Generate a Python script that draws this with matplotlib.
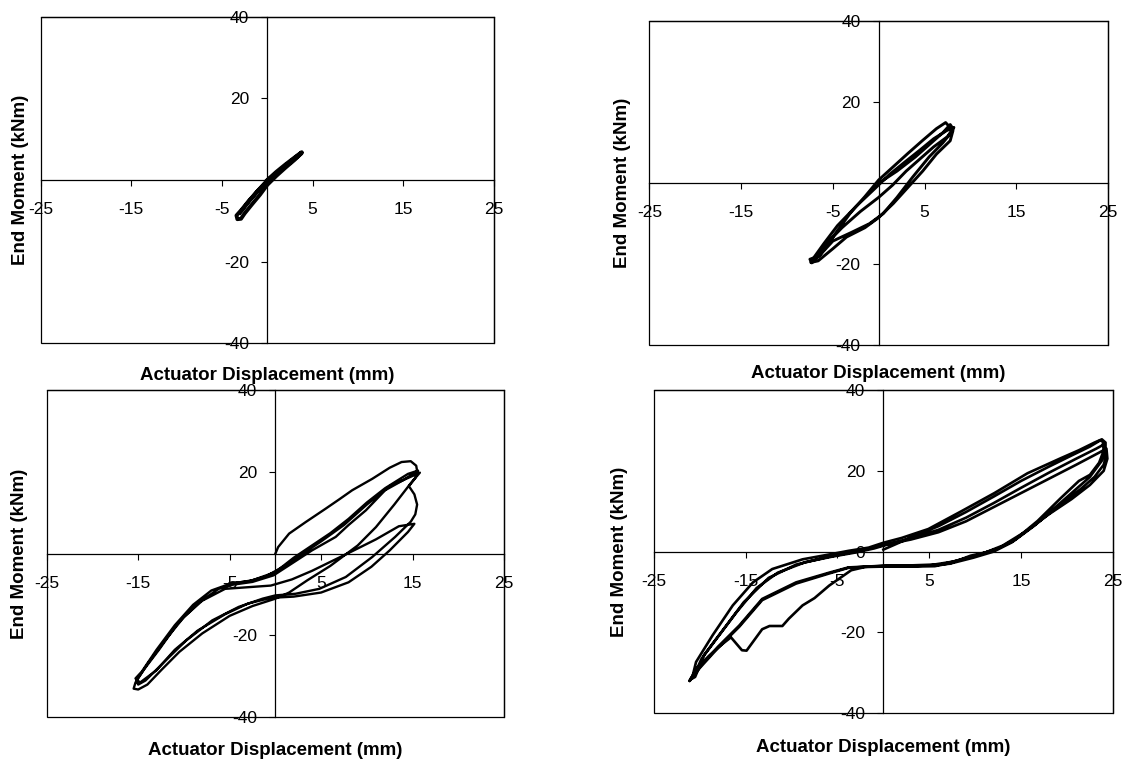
import matplotlib
matplotlib.use("Agg")
import matplotlib.pyplot as plt

plt.rcParams['font.family'] = ['Liberation Sans', 'DejaVu Sans']
plt.rcParams['axes.unicode_minus'] = False

# hysteresis loops, actuator displacement (mm) vs end moment (kNm)
p1_disp = [0, 1, 2, 3, 3.8, 3.2, 2, 1, 0, -1, -2, -2.8, -3.4, -3.3, -2.9, -2.5, -1.7,
           -0.8, 0, 1, 2, 3, 3.8, 2.5, 1.2, 0, -1.2, -2.3, -3]
p1_mom = [0, 2, 3.8, 5.5, 6.8, 5.7, 3.5, 1.6, -0.4, -2.6, -5, -7.2, -8.7, -9.6, -9.5, -8.2, -6,
          -3.6, -1.2, 1, 3, 4.9, 6.6, 4.2, 2, -0.1, -3, -6, -8]

p2_disp = [0, 2, 4, 5.5, 7, 7.8, 8.1, 7.5, 6, 4.5, 3, 1.5, 0, -2, -4, -5.5, -7, -7.4,
           -6.6, -5, -3.5, -1.5, 0, 1.6, 3.2, 4.8, 6.3, 7.8, 8.1,
           7.3, 6.3, 4.8, 3.2, 1.6, 0, -1.5, -3.1, -4.7, -6.3, -7.3, -7.5,
           -6.5, -5, -3, -1, 0.5, 2, 3.7, 5.5, 7, 7.9, 8.2,
           7.4, 6, 4.5, 3, 1.2, -0.5, -2.5, -4.5, -6, -7.2]
p2_mom = [0, 3, 6.5, 9.5, 12.5, 14.5, 13.5, 11.5, 9, 6, 3, -0.5, -3.5, -7, -11, -14.5, -18.5, -19.6,
          -19.2, -16.2, -13.3, -11, -8.5, -5, -1, 3, 7.2, 10.5, 13,
          15, 13.5, 10.6, 7.4, 4.1, 0.8, -3.3, -7.4, -12.4, -17.5, -19.7, -18.8,
          -18, -14.3, -12.2, -10, -7.5, -3.5, 1.5, 6.5, 10, 12.5, 13.8,
          13, 11, 8.2, 5.5, 2.2, -1.5, -5.8, -10.5, -15, -18.8]

p3_disp = [0, 0.3, 1.5, 3.3, 5.5, 7, 8.4, 10.6, 12.5, 13.8, 14.8, 15.4, 15.5,
           14, 12, 9.9, 8, 6.6, 4, 1.8, -0.2, -2.5, -4.7, -6.2, -8.4, -10.6, -12.7, -14.4, -15.2, -15,
           -14.2, -12.4, -9.8, -6.9, -4, -1.4, 0, 2.2, 4.8, 7.7, 10.6, 13.1, 14.8, 15.3, 15.5, 15.2, 14.6, 15.3, 15.6,
           14.5, 12, 10, 8, 6, 4, 2, 0, -2.5, -5, -7, -9, -11, -13, -14.6, -15.3,
           -14.8, -13, -11, -8.5, -5.5, -3, -0.5, 2, 5, 8, 10.5, 12.5, 14.5, 15.2,
           13.5, 11, 8.4, 6.2, 4, 1.8, -0.5, -3, -5.5, -8, -10, -12, -14, -15.3, -15.5,
           -15, -14, -12.5, -10.5, -8, -5, -2.5, 0, 1.5, 3.5, 6, 9, 11, 13, 14.8, 15.8,
           15, 12.5, 10, 7.5, 5, 3, 1, -1, -3, -5]
p3_mom = [0, 1.6, 4.9, 7.7, 11, 13.3, 15.5, 18.3, 21.0, 22.4, 22.6, 21.5, 20.2,
          18, 15.5, 10.6, 7, 4.1, 0.8, -2.4, -5.3, -6.9, -7.6, -8.6, -12, -16.8, -23.4, -28.4, -31, -32,
          -31, -27, -21.3, -16.3, -13, -11, -10.2, -9.8, -8.6, -5.7, -0.8, 4.1, 7.8, 9.6, 12, 14.5, 16.5, 18.5, 20.3,
          19.5, 16, 12.5, 8.5, 5, 2, -1, -4.5, -6.5, -7.4, -9, -12.5, -17.5, -23.5, -28.8, -30.5,
          -31.5, -28.5, -23.5, -18.8, -14.8, -12.2, -10.8, -10.5, -9.5, -7, -3.2, 0.8, 5.3, 7.3,
          6.7, 3.5, 0.6, -1.8, -4.2, -6.3, -7.8, -8.2, -8.6, -11.5, -15.5, -21, -27, -31.5, -33,
          -33.2, -32, -28.5, -24, -19.5, -15.2, -12.8, -11, -9.5, -6.5, -3, 2, 6.5, 12, 17.2, 19.8,
          19, 16.5, 12, 7, 3, 0, -3, -5.5, -6.8, -7.2]

p4_disp = [0, 3, 6, 9, 12, 15, 18, 20.5, 22.5, 23.6, 23.9, 24,
           23.5, 22.5, 21.3, 19.3, 16.8, 14.2, 12.1, 9.5, 7.4, 5.6, 3, 0, -2,
           -3.5, -5.9, -7.5, -8.8, -10.3, -11, -12.4, -13.2, -14.1, -14.9, -15.4, -16.6,
           -17.5, -19, -20.3, -21, -21.1,
           -20.8, -20.4, -18.6, -16.4, -14.2, -12.1, -8.8, -5.9, -3.8, -1.6, 0, 2, 4.9, 8.5, 12.1,
           15.7, 19.3, 21.3, 23, 23.8, 24.2, 24.2,
           23.8, 22.5, 21, 19, 16.5, 14, 12, 9.8, 7.2, 5, 2, -1, -3.8, -5.9, -9.5, -13.2, -15.7,
           -18, -20, -21, -21.1,
           -20.6, -19.8, -18, -16, -13.8, -11.5, -8.5, -5.5, -3, -1, 0.5, 3, 6, 9, 12, 15, 18, 21,
           23.2, 24, 24.3,
           24, 23, 21.5, 19.5, 17, 14.5, 12.5, 10, 7.5, 5.5, 3, 0, -3.8, -5.9, -9.5, -13.2, -15.7,
           -18, -20, -20.9,
           -20.5, -19.5, -17.5, -15.2, -12.5, -9.5, -6, -3, 0, 3, 6, 9, 12, 15, 18, 21, 23.5, 24.3, 24.4,
           24, 22.5, 20.5, 18, 15.5, 13, 11, 8.5, 6, 3, 0, -2]
p4_mom = [0.5, 3.5, 6.3, 9.8, 13.6, 17.5, 21, 23.8, 26, 27.5, 27.3, 25,
          22, 19, 17.5, 13.2, 7.6, 2.7, 0.3, -1, -2.8, -3.6, -3.7, -3.7, -3.8,
          -4.6, -8.4, -11.5, -13.3, -16.6, -18.4, -18.4, -19.2, -22, -24.5, -24.4, -21.2,
          -22.8, -25.8, -28.8, -31.5, -32,
          -31, -27.3, -20.7, -13.3, -7.6, -4.3, -1.9, -0.7, 0.2, 1.0, 2.2, 3.4, 5.6, 10, 14.5,
          19.4, 23.1, 25.1, 27, 27.8, 27.0, 25,
          22.5, 18.5, 15.5, 11.5, 6.5, 2.3, 0, -1.5, -3, -3.4, -3.5, -3.6, -3.9, -5.2, -7.6, -11.7, -18.3,
          -23.5, -28.5, -31.5, -32,
          -30.5, -26.5, -21, -15, -9, -5.2, -2.6, -1.2, -0.2, 0.8, 1.8, 3.3, 5.4, 8.4, 12, 15.8, 19.5, 23,
          25.5, 26.5, 24,
          21.5, 18.5, 15.5, 12, 7.5, 3.2, 0.8, -1, -2.5, -3.2, -3.4, -3.5, -4, -5.4, -7.9, -12, -18.6,
          -23.8, -28.8, -31.5,
          -31, -25.5, -19.5, -12.5, -6.5, -3.2, -1.3, 0, 1.6, 3, 4.8, 7.5, 11, 14.5, 18, 21.5, 24.5, 25.5, 23,
          20, 16.5, 13, 9.2, 5, 1.5, -0.3, -2, -3.3, -3.6, -3.6, -3.7]

x_ticks = [-25, -15, -5, 5, 15, 25]
y_ticks = [-40, -20, 20, 40]
x_label = 'Actuator Displacement (mm)'
y_label = 'End Moment (kNm)'

panels = [
    (p1_disp, p1_mom, [0.0362, 0.5489, 0.4032, 0.4292], 2.8, y_ticks, -0.100, -0.045),
    (p2_disp, p2_mom, [0.5778, 0.5467, 0.4079, 0.4251], 2.1, y_ticks, -0.087, -0.058),
    (p3_disp, p3_mom, [0.0416, 0.0574, 0.4068, 0.4301], 1.7, y_ticks, -0.100, -0.059),
    (p4_disp, p4_mom, [0.5817, 0.0627, 0.4084, 0.4248], 1.9, [-40, -20, 0, 20, 40], -0.107, -0.074),
]

fig = plt.figure(figsize=(11.24, 7.61), dpi=100)

for xs, ys, rect, lw, yt, xl_y, yl_x in panels:
    ax = fig.add_axes(rect)
    ax.plot(xs, ys, color='black', lw=lw, solid_joinstyle='round')
    ax.set_xlim(-25, 25)
    ax.set_ylim(-40, 40)

    # axes cross at the origin, plot area keeps a full frame
    ax.spines['left'].set_position(('data', 0))
    ax.spines['bottom'].set_position(('data', 0))
    for s in ax.spines.values():
        s.set_linewidth(0.9)
    ax.add_patch(plt.Rectangle((0, 0), 1, 1, transform=ax.transAxes, fill=False,
                               lw=0.9, edgecolor='black', clip_on=False))

    ax.set_xticks(x_ticks)
    ax.set_yticks(yt)
    ax.tick_params(axis='x', direction='out', length=4, width=0.8, pad=12, labelsize=12.5)
    ax.tick_params(axis='y', direction='out', length=4, width=0.8, pad=9, labelsize=12.5)

    ax.set_xlabel(x_label, fontsize=13.5, fontweight='bold')
    ax.set_ylabel(y_label, fontsize=13.5, fontweight='bold')
    ax.xaxis.set_label_coords(0.5, xl_y)
    ax.yaxis.set_label_coords(yl_x, 0.5)
    ax.xaxis.label.set_va('center')
    ax.yaxis.label.set_va('center')

fig.savefig('out.png', dpi=100)
